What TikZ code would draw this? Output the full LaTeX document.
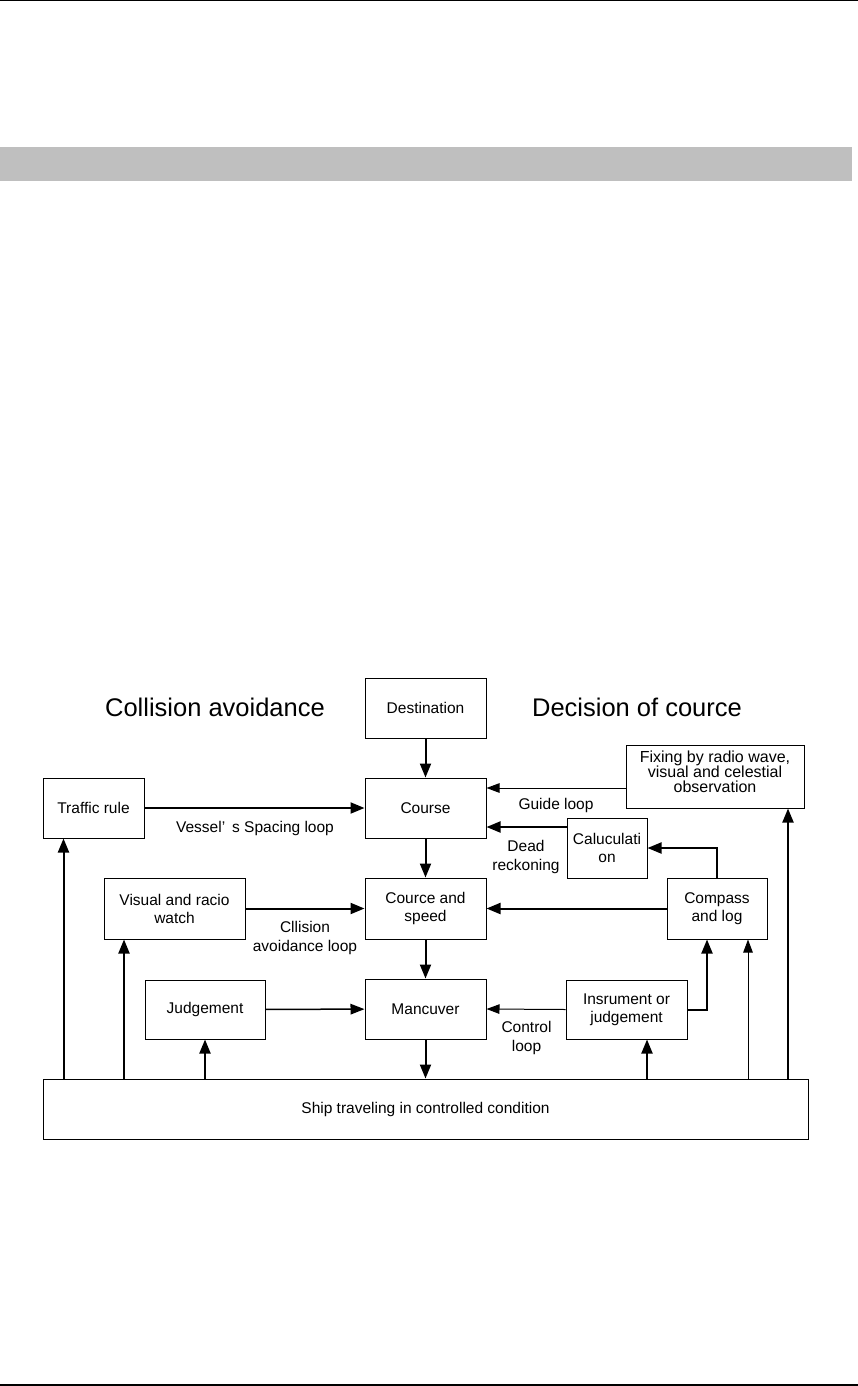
\documentclass[tikz,border=0pt]{standalone}
\usepackage{fontspec}
\setmainfont{Liberation Sans}
\usetikzlibrary{arrows.meta,calc}
\begin{document}
\begin{tikzpicture}[x=1pt,y=-1pt,
  box/.style={draw,line width=1pt,rectangle,inner sep=0pt,align=center,font=\fontsize{15.5}{18}\selectfont},
  lbl/.style={align=center,font=\fontsize{15.5}{19}\selectfont,inner sep=0pt},
  titletext/.style={font=\fontsize{25.5}{30}\selectfont,inner sep=0pt},
  thk/.style={line width=2pt,-{Triangle[length=14pt,width=11pt]}},
  thn/.style={line width=1pt,-{Triangle[length=13pt,width=9.5pt]}},
  mdm/.style={line width=1.5pt,-{Triangle[length=14pt,width=10.5pt]}},
]
\useasboundingbox (0,0) rectangle (858,1386);
% page furniture
\draw[line width=1.5pt] (0,0.75) -- (858,0.75);
\fill[black!25] (0,147) rectangle (852,181);
\draw[line width=2pt] (0,1385) -- (858,1385);

% titles
\node[titletext] (tcoll) at (215,707) {Collision avoidance};
\node[titletext] (tdec) at (637,707) {Decision of cource};

% central column
\node[box,minimum width=121pt,minimum height=60pt] (dest) at (425.5,708) {Destination};
\node[box,minimum width=121pt,minimum height=60pt] (course) at (425.5,808) {Course};
\node[box,minimum width=121pt,minimum height=61pt] (cs) at (425.5,908.5) {Cource and\\speed};
\node[box,minimum width=121pt,minimum height=60pt] (man) at (425.5,1009) {Mancuver};

% left side
\node[box,minimum width=101pt,minimum height=60pt] (traffic) at (93.5,808) {Traffic rule};
\node[box,minimum width=141pt,minimum height=61pt] (visual) at (174.5,908.5) {Visual and racio\\watch};
\node[box,minimum width=120pt,minimum height=59pt] (judge) at (205,1009.5) {Judgement};

% right side
\node[box,minimum width=178pt,minimum height=63pt] (fix) at (715,776.5) {};
\node[lbl,font=\fontsize{16}{15}\selectfont] (fixtext) at ($(fix.center)+(0,-4.5)$) {Fixing by radio wave,\\visual and celestial\\observation};
\node[box,minimum width=80pt,minimum height=60pt] (calc) at (607,848) {Caluculati\\on};
\node[box,minimum width=100pt,minimum height=61pt] (compass) at (717,908.5) {Compass\\and log};
\node[box,minimum width=121pt,minimum height=59pt] (instr) at (626.5,1009.5) {Insrument or\\judgement};

% bottom
\node[box,minimum width=765pt,minimum height=60pt] (ship) at (425.5,1109) {Ship traveling in controlled condition};

% labels
\node[lbl] (lvessel) at (255,828) {Vessel’\hspace{0.45em}s Spacing loop};
\node[lbl] (lguide) at (556,805) {Guide loop};
\node[lbl] (ldead) at (526,857) {Dead\\reckoning};
\node[lbl] (lcoll) at (305,938) {Cllision\\avoidance loop};
\node[lbl] (lctrl) at (526.5,1038) {Control\\loop};

% coordinates
\coordinate (cA) at ($(course.east)+(0,-20)$);
\coordinate (cB) at ($(course.east)+(0,19)$);
\coordinate (compL) at ($(compass.south)+(-10,0)$);
\coordinate (compR) at ($(compass.south)+(31,0)$);
\coordinate (fixR) at ($(fix.south)+(73,0)$);
\coordinate (trafL) at ($(traffic.south)+(-30,0)$);
\coordinate (visL) at ($(visual.south)+(-50.5,0)$);
\coordinate (insR) at ($(instr.south)+(20.5,0)$);

% central flow
\draw[thk] (dest) -- (course);
\draw[thk] (course) -- (cs);
\draw[thk] (cs) -- (man);
\draw[thk] (man) -- (ship);

% horizontal arrows
\draw[thk] (traffic) -- (course);
\draw[thk] (visual) -- (cs);
\draw[mdm] (judge) -- (man);
\draw[thn] (cA -| fix.west) -- (cA);
\draw[thk] (cB -| calc.west) -- (cB);
\draw[thk] (compass.west) -- (cs.east);
\draw[thn] (instr.west) -- (man.east);
\draw[thk] (compass.north) |- (calc.east);
\draw[thk] (instr.east) -| (compL);

% feedback from ship
\draw[thk] (trafL |- ship.north) -- (trafL);
\draw[thk] (visL |- ship.north) -- (visL);
\draw[thk] (judge.south |- ship.north) -- (judge.south);
\draw[thk] (insR |- ship.north) -- (insR);
\draw[thn] (compR |- ship.north) -- (compR);
\draw[thk] (fixR |- ship.north) -- (fixR);
\end{tikzpicture}
\end{document}
